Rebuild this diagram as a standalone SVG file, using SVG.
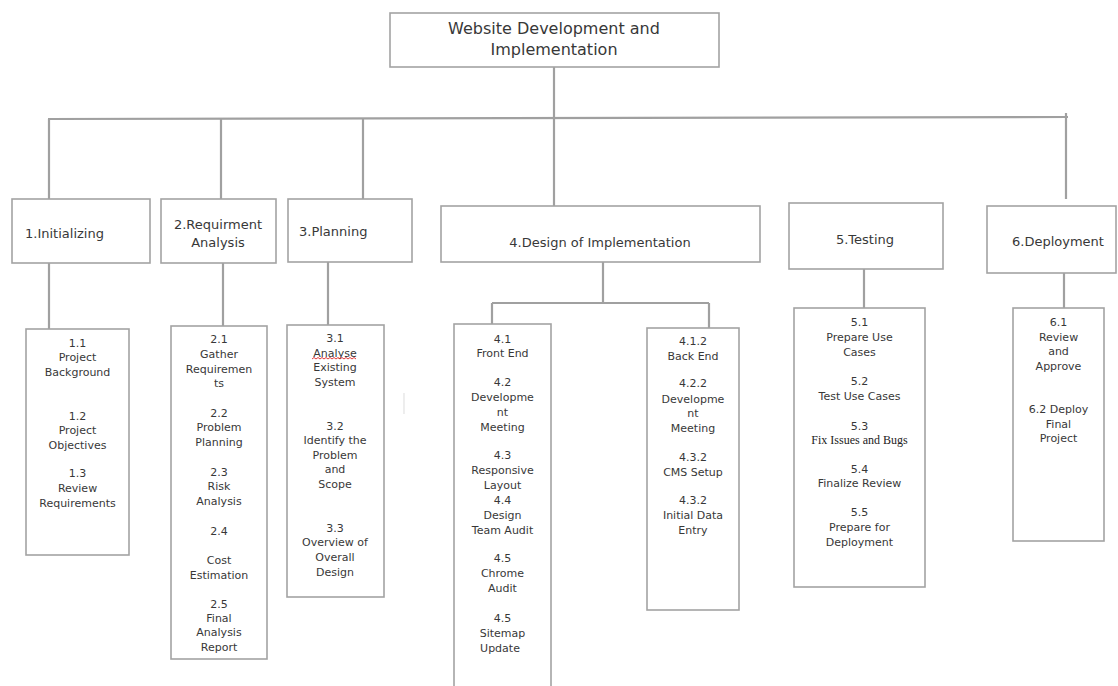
<svg xmlns="http://www.w3.org/2000/svg" width="1118" height="686" viewBox="0 0 1118 686">
<style>
.box{fill:#fff;stroke:#a3a3a3;stroke-width:1.6}
.con{fill:none;stroke:#a0a0a0;stroke-width:2.2}
.t{font-family:"DejaVu Sans",sans-serif;fill:#383838}
.h0{font-size:16px;text-anchor:middle}
.h1{font-size:13px}
.c{text-anchor:middle}
.s{font-size:11px;text-anchor:middle}
.serif{font-family:"Liberation Serif",serif;font-size:12px;text-anchor:middle;fill:#222}
</style>
<rect width="1118" height="686" fill="#fff"/>
<g id="connectors">
<path class="con" d="M554 67V206"/>
<path class="con" d="M48 119L1068 117"/>
<path class="con" d="M49 119V199M221 119V199M363 119V199M1066 113V199"/>
<path class="con" d="M49 263V329M223 263V326M328 262V325"/>
<path class="con" d="M603 262V303M492 303H709M492 303V324M709 303V328"/>
<path class="con" d="M864 269V308M1064 273V308"/>
</g>
<g id="root">
<rect class="box" x="390" y="13" width="329" height="54"/>
<text class="t h0" x="554" y="34">Website Development and</text>
<text class="t h0" x="554" y="55">Implementation</text>
</g>
<g id="n1">
<rect class="box" x="12" y="199" width="138" height="64"/>
<text class="t h1" x="25" y="238">1.Initializing</text>
</g>
<g id="n2">
<rect class="box" x="161" y="199" width="115" height="64"/>
<text class="t h1 c" x="218" y="229">2.Requirment</text>
<text class="t h1 c" x="218" y="247">Analysis</text>
</g>
<g id="n3">
<rect class="box" x="288" y="199" width="124" height="63"/>
<text class="t h1" x="299" y="236">3.Planning</text>
</g>
<g id="n4">
<rect class="box" x="441" y="206" width="319" height="56"/>
<text class="t h1 c" x="600" y="247">4.Design of Implementation</text>
</g>
<g id="n5">
<rect class="box" x="789" y="203" width="154" height="66"/>
<text class="t h1 c" x="865" y="244">5.Testing</text>
</g>
<g id="n6">
<rect class="box" x="987" y="206" width="129" height="67"/>
<text class="t h1 c" x="1058" y="246">6.Deployment</text>
</g>
<g id="n1-sub">
<rect class="box" x="26" y="329" width="103" height="226"/>
<text class="t s" x="77.5" y="347">1.1</text>
<text class="t s" x="77.5" y="361">Project</text>
<text class="t s" x="77.5" y="376">Background</text>
<text class="t s" x="77.5" y="420">1.2</text>
<text class="t s" x="77.5" y="434">Project</text>
<text class="t s" x="77.5" y="449">Objectives</text>
<text class="t s" x="77.5" y="477">1.3</text>
<text class="t s" x="77.5" y="492">Review</text>
<text class="t s" x="77.5" y="507">Requirements</text>
</g>
<g id="n2-sub">
<rect class="box" x="171" y="326" width="96" height="333"/>
<text class="t s" x="219" y="343">2.1</text>
<text class="t s" x="219" y="358">Gather</text>
<text class="t s" x="219" y="373">Requiremen</text>
<text class="t s" x="219" y="387">ts</text>
<text class="t s" x="219" y="417">2.2</text>
<text class="t s" x="219" y="431">Problem</text>
<text class="t s" x="219" y="446">Planning</text>
<text class="t s" x="219" y="476">2.3</text>
<text class="t s" x="219" y="490">Risk</text>
<text class="t s" x="219" y="505">Analysis</text>
<text class="t s" x="219" y="535">2.4</text>
<text class="t s" x="219" y="564">Cost</text>
<text class="t s" x="219" y="579">Estimation</text>
<text class="t s" x="219" y="608">2.5</text>
<text class="t s" x="219" y="622">Final</text>
<text class="t s" x="219" y="636">Analysis</text>
<text class="t s" x="219" y="651">Report</text>
</g>
<g id="n3-sub">
<rect class="box" x="287" y="325" width="97" height="272"/>
<text class="t s" x="335" y="342">3.1</text>
<text class="t s" x="335" y="357">Analyse</text>
<path d="M312 359l2 -1.5l2 1.5l2 -1.5l2 1.5l2 -1.5l2 1.5l2 -1.5l2 1.5l2 -1.5l2 1.5l2 -1.5l2 1.5l2 -1.5l2 1.5l2 -1.5l2 1.5l2 -1.5l2 1.5l2 -1.5l2 1.5l2 -1.5l2 1.5" fill="none" stroke="#d22" stroke-width="0.9"/>
<text class="t s" x="335" y="371">Existing</text>
<text class="t s" x="335" y="386">System</text>
<text class="t s" x="335" y="430">3.2</text>
<text class="t s" x="335" y="444">Identify the</text>
<text class="t s" x="335" y="459">Problem</text>
<text class="t s" x="335" y="473">and</text>
<text class="t s" x="335" y="488">Scope</text>
<text class="t s" x="335" y="532">3.3</text>
<text class="t s" x="335" y="546">Overview of</text>
<text class="t s" x="335" y="561">Overall</text>
<text class="t s" x="335" y="576">Design</text>
</g>
<path d="M404 393V414" stroke="#e2e2e2" stroke-width="1.2"/>
<g id="n4-front">
<rect class="box" x="454" y="324" width="97" height="380"/>
<text class="t s" x="502.5" y="343">4.1</text>
<text class="t s" x="502.5" y="357">Front End</text>
<text class="t s" x="502.5" y="386">4.2</text>
<text class="t s" x="502.5" y="401">Developme</text>
<text class="t s" x="502.5" y="416">nt</text>
<text class="t s" x="502.5" y="431">Meeting</text>
<text class="t s" x="502.5" y="459">4.3</text>
<text class="t s" x="502.5" y="474">Responsive</text>
<text class="t s" x="502.5" y="489">Layout</text>
<text class="t s" x="502.5" y="504">4.4</text>
<text class="t s" x="502.5" y="519">Design</text>
<text class="t s" x="502.5" y="534">Team Audit</text>
<text class="t s" x="502.5" y="562">4.5</text>
<text class="t s" x="502.5" y="577">Chrome</text>
<text class="t s" x="502.5" y="592">Audit</text>
<text class="t s" x="502.5" y="622">4.5</text>
<text class="t s" x="502.5" y="637">Sitemap</text>
<text class="t s" x="500" y="652">Update</text>
</g>
<g id="n4-back">
<rect class="box" x="647" y="328" width="92" height="282"/>
<text class="t s" x="693" y="345">4.1.2</text>
<text class="t s" x="693" y="360">Back End</text>
<text class="t s" x="693" y="387">4.2.2</text>
<text class="t s" x="693" y="403">Developme</text>
<text class="t s" x="693" y="417">nt</text>
<text class="t s" x="693" y="432">Meeting</text>
<text class="t s" x="693" y="461">4.3.2</text>
<text class="t s" x="693" y="476">CMS Setup</text>
<text class="t s" x="693" y="504">4.3.2</text>
<text class="t s" x="693" y="519">Initial Data</text>
<text class="t s" x="693" y="534">Entry</text>
</g>
<g id="n5-sub">
<rect class="box" x="794" y="308" width="131" height="279"/>
<text class="t s" x="859.5" y="326">5.1</text>
<text class="t s" x="859.5" y="341">Prepare Use</text>
<text class="t s" x="859.5" y="356">Cases</text>
<text class="t s" x="859.5" y="385">5.2</text>
<text class="t s" x="859.5" y="400">Test Use Cases</text>
<text class="t s" x="859.5" y="430">5.3</text>
<text class="serif" x="859.5" y="444">Fix Issues and Bugs</text>
<text class="t s" x="859.5" y="473">5.4</text>
<text class="t s" x="859.5" y="487">Finalize Review</text>
<text class="t s" x="859.5" y="516">5.5</text>
<text class="t s" x="859.5" y="531">Prepare for</text>
<text class="t s" x="859.5" y="546">Deployment</text>
</g>
<g id="n6-sub">
<rect class="box" x="1013" y="308" width="91" height="233"/>
<text class="t s" x="1058.5" y="326">6.1</text>
<text class="t s" x="1058.5" y="341">Review</text>
<text class="t s" x="1058.5" y="355">and</text>
<text class="t s" x="1058.5" y="370">Approve</text>
<text class="t s" x="1058.5" y="413">6.2 Deploy</text>
<text class="t s" x="1058.5" y="428">Final</text>
<text class="t s" x="1058.5" y="442">Project</text>
</g>
</svg>
